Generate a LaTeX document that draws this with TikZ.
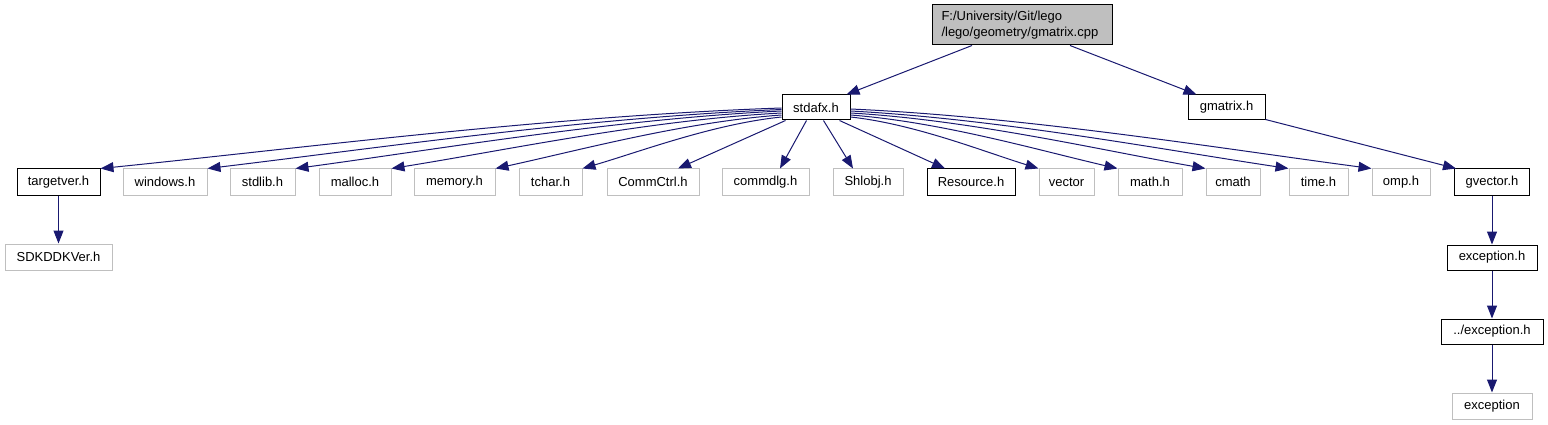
\documentclass[tikz,border=0pt]{standalone}
\usepackage{fontspec}
\setmainfont{Liberation Sans}
\usetikzlibrary{arrows.meta,calc}
\definecolor{edgec}{HTML}{191970}
\definecolor{grayb}{HTML}{BFBFBF}
\begin{document}
\begin{tikzpicture}[x=1pt,y=-1pt,
  box/.style={draw=black, line width=1pt, fill=white, inner sep=0pt,
    minimum height=25pt, font=\fontsize{13}{16}\selectfont, text=black},
  gbox/.style={box, draw=grayb},
  rowbox/.style={minimum height=26pt},
  dep/.style={draw=edgec, line width=1pt, -{Triangle[length=13pt,width=10pt]}}
]
\useasboundingbox (0,0) rectangle (1548,425);
% nodes
\node[box, fill=grayb, minimum width=180pt, minimum height=40pt, text width=161pt, align=left]
  (top) at (1022,25) {F:/University/Git/lego\\/lego/geometry/gmatrix.cpp};
\node[box, minimum width=68pt] (sd) at (816,107.5) {stdafx.h};
\node[box, minimum width=77pt] (gm) at (1226.5,107.5) {gmatrix.h};

\node[box, rowbox, minimum width=83pt] (tv) at (58.5,182) {targetver.h};
\node[gbox, rowbox, minimum width=84pt] (win) at (165,182) {windows.h};
\node[gbox, rowbox, minimum width=65pt] (stdl) at (262.5,182) {stdlib.h};
\node[gbox, rowbox, minimum width=72pt] (mal) at (355,182) {malloc.h};
\node[gbox, rowbox, minimum width=81pt] (mem) at (454.5,182) {memory.h};
\node[gbox, rowbox, minimum width=63pt] (tch) at (550.5,182) {tchar.h};
\node[gbox, rowbox, minimum width=92pt] (cc) at (653,182) {CommCtrl.h};
\node[gbox, rowbox, minimum width=87pt] (cd) at (765.5,182) {commdlg.h};
\node[gbox, rowbox, minimum width=70pt] (sh) at (868,182) {Shlobj.h};
\node[box, rowbox, minimum width=88pt] (res) at (971,182) {Resource.h};
\node[gbox, rowbox, minimum width=55pt] (vec) at (1066.5,182) {vector};
\node[gbox, rowbox, minimum width=64pt] (mth) at (1150,182) {math.h};
\node[gbox, rowbox, minimum width=54pt] (cm) at (1233,182) {cmath};
\node[gbox, rowbox, minimum width=59pt] (tim) at (1318.5,182) {time.h};
\node[gbox, rowbox, minimum width=58pt] (omp) at (1401,182) {omp.h};
\node[box, rowbox, minimum width=75pt] (gv) at (1492,182) {gvector.h};

\node[gbox, rowbox, minimum width=107pt] (sdk) at (58.5,257) {SDKDDKVer.h};
\node[box, minimum width=90pt] (exh) at (1492,257.5) {exception.h};
\node[box, minimum width=102pt] (pexh) at (1492,331.5) {../exception.h};
\node[gbox, rowbox, minimum width=80pt] (exc) at (1492,406) {exception};

% edges
\draw[dep] ($(top.south)+(-50,0)$) -- ($(sd.north east)+(-4,0)$);
\draw[dep] ($(top.south)+(48,0)$) -- ($(gm.north west)+(9,0)$);
\draw[dep] ($(gm.south east)+(0,-1)$) -- ($(gv.north west)+(2,0)$);

\draw[dep] ($(sd.west)+(0,0.5)$) .. controls +(-232,8) and +(198,-20) .. (tv.north east);
\draw[dep] ($(sd.west)+(0,2)$) .. controls +(-196,8) and +(167,-20) .. (win.north east);
\draw[dep] ($(sd.west)+(0,3.5)$) .. controls +(-166,8) and +(141,-19) .. (stdl.north east);
\draw[dep] ($(sd.west)+(0,5.5)$) .. controls +(-133,7) and +(113,-18) .. (mal.north east);
\draw[dep] ($(sd.west)+(0,7.5)$) .. controls +(-98,7) and +(83,-18) .. (mem.north east);
\draw[dep] ($(sd.west)+(0,9.5)$) .. controls +(-68,7) and +(58,-17) .. (tch.north east);
\draw[dep] ($(sd.south west)+(4,0)$) -- ($(cc.north)+(25,0)$);
\draw[dep] ($(sd.south west)+(25,0)$) -- ($(cd.north)+(14.5,0)$);
\draw[dep] ($(sd.south west)+(42,0)$) -- ($(sh.north)+(-15,0)$);
\draw[dep] ($(sd.south west)+(58,0)$) -- ($(res.north)+(-26,0)$);

\draw[dep] ($(sd.east)+(0,9.5)$) .. controls +(64,7) and +(-55,-17) .. (vec.north west);
\draw[dep] ($(sd.east)+(0,7.5)$) .. controls +(91,7) and +(-78,-18) .. (mth.north west);
\draw[dep] ($(sd.east)+(0,5.5)$) .. controls +(121,7) and +(-103,-18) .. (cm.north west);
\draw[dep] ($(sd.east)+(0,3.5)$) .. controls +(149,8) and +(-127,-19) .. (tim.north west);
\draw[dep] ($(sd.east)+(0,1.5)$) .. controls +(177,8) and +(-151,-20) .. (omp.north west);

\draw[dep] (tv.south) -- (sdk.north);
\draw[dep] (gv.south) -- (exh.north);
\draw[dep] (exh.south) -- (pexh.north);
\draw[dep] (pexh.south) -- (exc.north);
\end{tikzpicture}
\end{document}
